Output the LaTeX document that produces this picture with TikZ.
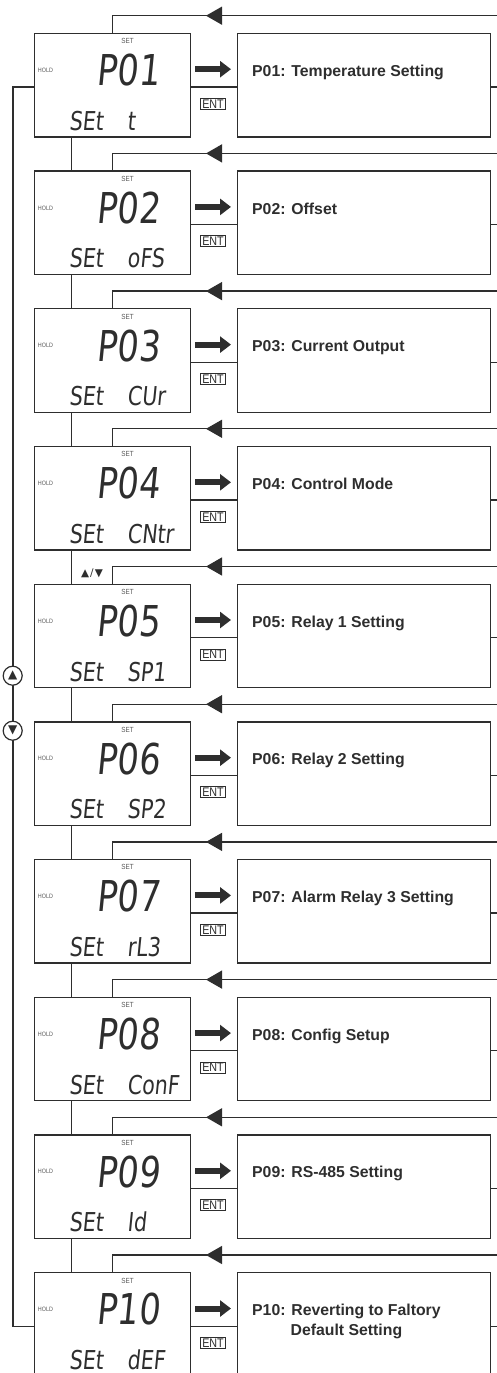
\documentclass[tikz,border=0pt]{standalone}
\usepackage{fontspec}
\setmainfont{Liberation Sans}
\newfontfamily\lcdfont{DejaVu Sans}[FakeSlant=0.1,FakeStretch=0.79]
\newfontfamily\narrowfont{Liberation Sans}[FakeStretch=0.86]
\newfontfamily\symbolfont{DejaVu Sans}
\usetikzlibrary{arrows.meta,positioning}
\definecolor{ink}{gray}{0.18}
\tikzset{
  lcdbox/.style={draw=ink,line width=1.3pt,minimum width=156pt,minimum height=103.5pt,inner sep=0pt,anchor=north west},
  parbox/.style={lcdbox,minimum width=253pt},
  link/.style={draw=ink,line width=1.3pt},
  lcdbig/.style={inner sep=0pt,text=ink,font=\lcdfont\fontsize{42.5}{42.5}\selectfont},
  lcdmid/.style={inner sep=0pt,anchor=base west,text=ink,font=\lcdfont\fontsize{26}{26}\selectfont},
  lcdtag/.style={inner sep=0pt,text=ink!80,font=\narrowfont\fontsize{7.4}{8}\selectfont},
  partitle/.style={inner sep=0pt,anchor=north west,align=center,text=ink,font=\bfseries\fontsize{15.8}{20}\selectfont},
  entbox/.style={draw=ink,line width=0.9pt,inner xsep=1.5pt,inner ysep=1.2pt,text=ink,font=\narrowfont\fontsize{12.5}{13}\selectfont},
  entarrow/.style={draw=ink,line width=6pt,-{Triangle[length=11pt,width=16pt]}},
  fbhead/.style={draw=ink,line width=1.3pt,-{Triangle[length=16pt,width=18pt]}},
  keycircle/.style={circle,draw=ink,fill=white,line width=1.2pt,minimum size=19pt,inner sep=0pt,text=ink,font=\symbolfont\fontsize{12}{12}\selectfont},
}

\begin{document}
\begin{tikzpicture}[x=1pt,y=-1pt]
\useasboundingbox (0,0) rectangle (496,1373);
% one row per parameter: display, ENT link, parameter box, return line
\foreach \pno/\code/\title [count=\i from 0] in {
  01/t/Temperature Setting,
  02/oFS/Offset,
  03/CUr/Current Output,
  04/CNtr/Control Mode,
  05/SP1/Relay 1 Setting,
  06/SP2/Relay 2 Setting,
  07/rL3/Alarm Relay 3 Setting,
  08/ConF/Config Setup,
  09/Id/RS-485 Setting,
  10/dEF/{Reverting to Faltory\\Default Setting}}{
  \pgfmathsetmacro\T{32.7+137.7*\i}
  \node[lcdbox] (lcd\i) at (34,\T) {};
  \node[parbox] (par\i) at (237,\T) {};
  \coordinate (lcdW\i) at ([yshift=-1.8pt]lcd\i.west);
  \coordinate (lcdE\i) at ([yshift=-1.8pt]lcd\i.east);
  \coordinate (parW\i) at ([yshift=-1.8pt]par\i.west);
  \coordinate (parE\i) at ([yshift=-1.8pt]par\i.east);
  \node[lcdtag] (set\i) at (127.5,\T+8.5) {SET};
  \node[lcdtag,font=\narrowfont\fontsize{6.3}{7}\selectfont] (hold\i) at (45.5,\T+37.5) {HOLD};
  \node[lcdbig] (pnum\i) at (128,\T+37.5) {P\pno};
  \node[lcdmid] (cmd\i) at (69,\T+97.5) {SEt};
  \node[lcdmid] (arg\i) at (127,\T+97.5) {\code};
  \node[partitle] (ttl\i) at (252,\T+32) {P\pno: \title};
  \node[entbox] (ent\i) at (213,\T+71) {ENT};
  \draw[link] (lcdE\i) -- (parW\i);
  \draw[link] (parE\i) -- ++(12,0);
  \draw[entarrow] (195,\T+36.5) -- (231,\T+36.5);
  \coordinate (fb\i) at (500,\T-17);
  \draw[link] (fb\i) -- ++(-294,0) coordinate (tip\i) -| (lcd\i.north);
  \draw[fbhead] ([xshift=16pt]tip\i) -- (tip\i);
}
% chain between displays
\foreach \i [remember=\i as \j (initially 0)] in {1,...,9}
  \draw[link] ([xshift=-41pt]lcd\j.south) -- ([xshift=-41pt]lcd\i.north);
% outer loop with up/down keys
\draw[link] (lcdW0) -- ++(-21,0) |- (lcdW9);
\node[keycircle] (keyup) at (12.7,675.7) {▲};
\node[keycircle] (keydn) at (12.7,730.7) {▼};
\node[inner sep=0pt,text=ink,font=\symbolfont\fontsize{10.5}{10.5}\selectfont] (updn) at (92,573.7) {▲\kern1pt/\kern1pt▼};
\end{tikzpicture}
\end{document}
